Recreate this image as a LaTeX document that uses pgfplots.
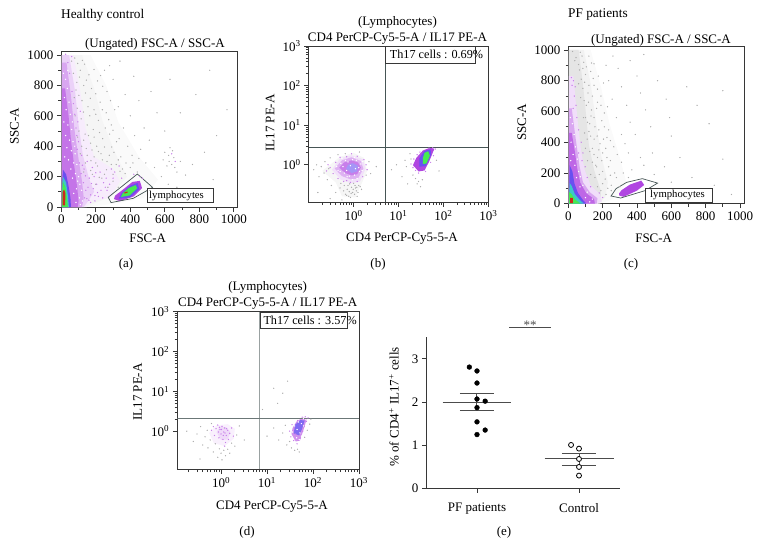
\documentclass[border=0pt]{standalone}
\usepackage{fontspec}
\setmainfont{Liberation Serif}
\usepackage{pgfplots}
\pgfplotsset{compat=1.18}
\definecolor{fpurple}{RGB}{176,70,225}
\definecolor{fblue}{RGB}{105,80,240}
\definecolor{fcyan}{RGB}{60,200,200}
\definecolor{fgreen}{RGB}{70,235,80}
\definecolor{fred}{RGB}{205,40,30}
\definecolor{axdark}{RGB}{55,55,55}
\definecolor{gategray}{RGB}{70,85,85}
\newcommand{\lab}{\fontsize{13}{15}\selectfont}
\pgfplotsset{
  flow/.style={
    scale only axis, anchor=south west, axis line style={axdark, line width=1pt},
    tick align=outside, xtick pos=bottom, ytick pos=left,
    tickwidth=4.5pt, subtickwidth=2.8pt,
    tick style={draw=axdark, line width=0.8pt},
    tick label style={font=\lab},
    /pgf/number format/assume math mode=true,
    /pgf/number format/1000 sep={},
    label style={font=\lab},
    every axis title shift=0pt,
    title style={font=\fontsize{13}{16}\selectfont, align=center},
  },
  linflow/.style={flow, xmin=0, ymin=0, xtick={0,200,400,600,800,1000}, ytick={0,200,400,600,800,1000},
    minor x tick num=1, minor y tick num=1},
  logflow/.style={flow, xmax=1000, ymax=1000,
    xtick={1,10,100,1000}, ytick={1,10,100,1000},
    xticklabels={10\textsuperscript{0},10\textsuperscript{1},10\textsuperscript{2},10\textsuperscript{3}},
    yticklabels={10\textsuperscript{0},10\textsuperscript{1},10\textsuperscript{2},10\textsuperscript{3}},
    minor xtick={0.2,0.3,0.4,0.5,0.6,0.7,0.8,0.9,2,3,4,5,6,7,8,9,20,30,40,50,60,70,80,90,200,300,400,500,600,700,800,900},
    minor ytick={}},
  blob/.style={draw=none, fill=#1},
  gdot/.style={only marks, mark=*, mark size=0.38pt, color=gray!65, mark options={draw=none, fill=gray!65}},
  pdot/.style={only marks, mark=*, mark size=0.4pt, color=fpurple!70, mark options={draw=none, fill=fpurple!70}},
  wdot/.style={only marks, mark=*, mark size=0.45pt, color=white, mark options={draw=none, fill=white, fill opacity=.7}},
}
\begin{document}
\begin{tikzpicture}
\path[use as bounding box] (0pt,0pt) rectangle (760pt,-558pt);

% (a) healthy control, FSC/SSC
\begin{axis}[linflow, at={(61.3pt,-207pt)}, width=176pt, height=155.3pt, xmax=1020, ymax=1022,
  title={(Ungated) FSC-A / SSC-A}, title style={at={(axis description cs:0.5,1)}, anchor=center, yshift=7.5pt, xshift=5.7pt},
  xlabel={FSC-A}, xlabel style={at={(axis description cs:0.5,0)}, anchor=center, yshift=-31pt, xshift=-1.6pt},
  ylabel={SSC-A}, ylabel style={at={(axis description cs:0,0.5)}, anchor=center, yshift=47pt, xshift=3pt}]
\addplot[blob=gray!4] coordinates {(3,1000) (170,1000) (260,800) (330,560) (450,330) (560,180) (480,60) (300,20) (150,0) (3,0)} -- cycle;
\addplot[blob=gray!8] coordinates {(3,1000) (120,1000) (190,780) (240,560) (310,360) (380,200) (290,70) (160,10) (3,0)} -- cycle;
\addplot[blob=fpurple!10] coordinates {(3,1000) (70,1000) (110,760) (140,520) (190,330) (300,250) (340,170) (280,60) (180,40) (140,0) (3,0)} -- cycle;
\addplot[blob=fpurple!25] coordinates {(3,1000) (45,1000) (80,760) (100,540) (125,340) (160,190) (190,100) (150,30) (130,0) (3,0)} -- cycle;
\addplot[blob=fpurple!48] coordinates {(3,950) (30,950) (55,740) (75,520) (98,330) (120,170) (130,60) (120,0) (3,0)} -- cycle;
\addplot[blob=fpurple!75] coordinates {(3,780) (22,780) (42,600) (58,420) (75,270) (92,130) (100,40) (95,0) (3,0)} -- cycle;
\addplot[wdot] coordinates {(12,880) (25,840) (35,780) (18,720) (45,690) (28,640) (52,610) (15,560) (38,540) (60,510) (25,470) (48,440) (68,430) (32,390) (58,370) (80,350) (20,330) (42,310) (72,290) (90,280) (55,250) (82,220) (100,200) (65,190) (108,150) (88,120) (118,110) (72,90) (105,60) (122,40) (85,30) (110,15) (95,170) (78,400) (64,560) (38,900)};
\addplot[blob=fblue] coordinates {(4,0) (56,0) (53,60) (42,140) (28,215) (10,245) (5,150)} -- cycle;
\addplot[blob=fcyan] coordinates {(4,0) (44,0) (39,70) (28,160) (10,200) (5,120)} -- cycle;
\addplot[blob=fgreen] coordinates {(4,0) (38,0) (33,60) (24,130) (8,170)} -- cycle;
\addplot[blob=fred] coordinates {(8,10) (22,10) (24,90) (16,115) (8,100)} -- cycle;
\addplot[pdot] coordinates {(135,60) (142,110) (128,160) (115,220) (132,250) (105,290) (118,340) (92,380) (100,430) (85,520) (96,560) (78,610) (70,680) (62,760) (48,880) (38,950) (155,130) (170,80) (185,120) (162,190) (190,200) (205,150) (230,110) (215,70) (245,160) (180,260) (150,300) (225,230) (260,190) (265,110) (280,150) (240,60) (195,40) (170,30) (290,250) (310,230) (350,190) (335,270) (420,215) (455,200) (470,190) (640,350) (660,300) (110,630) (60,990) (25,1005) (90,470) (148,55) (175,155) (210,95) (140,205) (122,275) (200,225) (255,130) (300,190) (160,45) (195,75)};
\addplot[gdot] coordinates {(60,960) (110,900) (135,940) (160,870) (90,820) (130,800) (175,780) (210,830) (250,900) (75,720) (120,700) (155,660) (190,640) (225,690) (265,760) (300,840) (80,600) (115,580) (150,540) (185,510) (215,570) (260,620) (290,540) (330,660) (370,740) (420,860) (95,460) (130,440) (170,420) (205,400) (240,450) (280,480) (320,430) (360,520) (400,600) (450,700) (520,760) (110,350) (150,340) (190,330) (230,350) (265,300) (305,360) (345,330) (385,400) (425,470) (480,520) (555,620) (630,840) (130,230) (170,240) (210,270) (250,215) (290,280) (330,310) (375,290) (410,340) (460,380) (510,440) (600,500) (690,620) (780,740) (860,900) (200,150) (235,190) (270,130) (300,170) (330,130) (370,220) (400,260) (440,230) (490,290) (540,260) (590,310) (612,270) (622,340) (630,390) (645,370) (652,325) (640,280) (658,260) (625,300) (600,360) (670,230) (690,300) (720,210) (760,280) (830,360) (900,470) (960,640) (580,200) (620,150) (670,130) (560,110) (500,120) (720,120) (800,80) (880,180)
 (78,980) (95,945) (122,965) (70,880) (105,855) (145,835) (190,905) (228,865) (280,930) (340,960) (85,770) (102,735) (140,750) (168,715) (200,745) (240,795) (285,700) (92,650) (128,625) (165,600) (200,610) (238,640) (275,575) (310,640) (102,500) (138,480) (158,470) (190,460) (222,490) (255,520) (300,505) (118,400) (145,385) (178,375) (215,365) (250,395) (292,395) (335,450) (140,290) (172,305) (200,290) (238,310) (278,340) (318,280) (355,250) (180,215) (220,195) (262,245) (300,215) (340,235) (415,290) (450,320)};
\addplot[blob=fpurple] coordinates {(305,52) (340,38) (420,70) (468,125) (455,172) (412,165) (350,108) (312,75)} -- cycle;
\addplot[blob=fblue] coordinates {(333,55) (400,64) (452,118) (442,158) (402,142) (350,92)} -- cycle;
\addplot[blob=fgreen] coordinates {(346,66) (396,76) (440,124) (430,144) (390,124) (356,90)} -- cycle;
\addplot[blob=fred] coordinates {(365,88) (385,95) (385,102) (365,96)} -- cycle;
\addplot[draw=gategray, line width=0.7pt] coordinates {(272,64) (288,29) (417,57) (529,129) (441,217)} -- cycle;
\end{axis}

% (b) healthy control, CD4/IL17
\begin{loglogaxis}[logflow, at={(308.7pt,-202pt)}, width=179.6pt, height=156pt, xmin=0.1, ymin=0.115,
  title={(Lymphocytes)\\CD4 PerCP-Cy5-5-A / IL17 PE-A}, title style={at={(axis description cs:0.5,1)}, anchor=center, yshift=16pt, xshift=-1pt},
  xlabel={CD4 PerCP-Cy5-5-A}, xlabel style={at={(axis description cs:0.5,0)}, anchor=center, yshift=-36.5pt, xshift=3.5pt},
  ylabel={IL17 PE-A}, ylabel style={at={(axis description cs:0,0.5)}, anchor=center, yshift=38.7pt, xshift=1pt}]
\addplot[blob=gray!7] coordinates {(0.2,0.7) (0.4,0.36) (0.55,0.16) (1.1,0.15) (1.5,0.33) (2,0.7) (1.7,1.5) (1,2) (0.5,1.6)} -- cycle;
\addplot[blob=fpurple!16] coordinates {(0.33,0.75) (0.52,0.42) (0.9,0.34) (1.4,0.38) (1.85,0.8) (1.6,1.4) (0.9,1.75) (0.5,1.45)} -- cycle;
\addplot[blob=fpurple!42] coordinates {(0.38,0.8) (0.55,0.52) (0.85,0.43) (1.25,0.45) (1.65,0.8) (1.45,1.25) (0.9,1.55) (0.55,1.3)} -- cycle;
\addplot[blob=fpurple!70] coordinates {(0.48,0.85) (0.65,0.62) (0.9,0.54) (1.2,0.58) (1.45,0.85) (1.25,1.15) (0.9,1.3) (0.62,1.15)} -- cycle;
\addplot[blob=fblue!60] coordinates {(0.68,0.8) (0.9,0.62) (1.2,0.68) (1.25,0.95) (0.95,1.1) (0.75,1)} -- cycle;
\addplot[wdot] coordinates {(0.45,0.72) (0.52,1.1) (0.62,0.62) (0.66,1.3) (0.8,0.52) (1.05,0.55) (1.35,0.68) (1.45,1.05) (1.15,1.3) (0.58,0.9) (0.75,1.18) (1.3,0.85) (0.95,1.35) (0.7,0.72) (1.1,0.8) (0.85,0.95) (0.5,0.68) (0.42,0.9) (1.55,0.72) (0.72,0.5) (1.2,0.45) (0.95,0.42) (1.6,1.2) (0.55,1.45) (1.05,1.55)};
\addplot[pdot] coordinates {(0.3,0.85) (0.35,0.6) (0.4,1.15) (0.45,0.45) (0.5,1.55) (0.7,1.6) (0.9,1.9) (1.2,1.65) (1.7,1.35) (1.9,1) (2,0.75) (1.6,0.5) (1.2,0.38) (0.85,0.36) (0.7,0.4) (0.25,0.7) (0.27,1) (0.6,0.38)};
\addplot[gdot] coordinates {(0.13,0.75) (0.15,1) (0.17,0.5) (0.19,0.9) (0.22,0.62) (0.23,1.2) (0.26,0.42) (0.28,0.8) (0.3,1.5) (0.32,0.3) (0.4,0.2) (0.45,1.8) (0.5,0.26) (0.55,0.13) (0.6,0.22) (0.65,1.9) (0.7,0.17) (0.75,0.3) (0.8,0.21) (0.85,0.15) (0.9,0.27) (0.95,0.2) (1,0.34) (1.05,0.18) (1.1,0.26) (1.15,0.22) (1.2,0.16) (1.3,0.3) (1.35,2.1) (1.5,0.24) (1.9,0.55) (2.2,1.2) (2.4,0.6) (3.2,0.9) (7,0.75) (9,1) (12,0.5) (15,0.9) (16,0.33) (19,1.4) (21,0.55) (24,0.45) (26,0.33) (28,0.38) (31,0.28) (34,0.42) (18,1.9) (14,1.3) (70,1.3) (80,0.7) (0.16,0.2) (0.3,0.14) (0.62,0.3) (0.72,0.24) (0.82,0.33) (0.88,0.19) (0.98,0.24) (1.08,0.3) (1.18,0.27) (1.25,0.2) (0.66,0.18) (0.78,0.16) (0.52,0.34) (1.4,0.28)};
\addplot[pdot] coordinates {(19,1.05) (21,0.85) (22,1.4) (24,0.72) (26,1.8) (28,0.62) (30,2.1) (40,0.68) (52,1.15) (60,1.7) (66,2.5) (48,2.65) (58,2.7)};
\addplot[blob=fpurple] coordinates {(21,0.98) (28,0.68) (38,0.72) (48,1.2) (63,2.55) (50,2.7) (35,2.3) (25,1.5)} -- cycle;
\addplot[blob=fblue] coordinates {(29,0.9) (40,0.92) (53,1.75) (52,2.45) (38,2.25) (29,1.45)} -- cycle;
\addplot[blob=fgreen] coordinates {(35,1.05) (42,1.08) (50,1.7) (46,2.2) (38,2) (35,1.5)} -- cycle;
\addplot[draw=gategray, line width=0.9pt, forget plot] coordinates {(5.06,0.115) (5.06,1000)};
\addplot[draw=gategray, line width=0.9pt, forget plot] coordinates {(0.1,2.75) (1000,2.75)};
\end{loglogaxis}

% (c) PF patients, FSC/SSC
\begin{axis}[linflow, at={(568.3pt,-203.7pt)}, width=176pt, height=157pt, xmax=1025, ymax=1021,
  title={(Ungated) FSC-A / SSC-A}, title style={at={(axis description cs:0.5,1)}, anchor=center, yshift=6.5pt, xshift=4.7pt},
  xlabel={FSC-A}, xlabel style={at={(axis description cs:0.5,0)}, anchor=center, yshift=-34.3pt, xshift=-2.6pt},
  ylabel={SSC-A}, ylabel style={at={(axis description cs:0,0.5)}, anchor=center, yshift=46.3pt, xshift=3pt}]
\addplot[blob=gray!4] coordinates {(3,1000) (130,1000) (190,760) (240,520) (300,300) (340,130) (260,30) (180,0) (3,0)} -- cycle;
\addplot[blob=gray!10] coordinates {(3,1000) (90,1000) (130,780) (160,540) (190,320) (230,140) (215,40) (170,0) (3,0)} -- cycle;
\addplot[blob=gray!20] coordinates {(3,1000) (60,1000) (85,780) (105,560) (120,380) (150,220) (190,80) (190,20) (170,0) (3,0)} -- cycle;
\addplot[blob=fpurple!18] coordinates {(3,830) (30,830) (42,680) (58,500) (75,340) (95,220) (130,120) (185,60) (195,15) (170,0) (3,0)} -- cycle;
\addplot[blob=fpurple!48] coordinates {(4,620) (20,620) (36,480) (52,350) (66,240) (85,140) (125,75) (170,35) (165,0) (4,0)} -- cycle;
\addplot[blob=fpurple!82] coordinates {(4,460) (20,460) (38,340) (52,230) (70,135) (105,68) (150,30) (155,0) (4,0)} -- cycle;
\addplot[wdot] coordinates {(12,560) (24,520) (34,450) (16,400) (42,370) (28,320) (52,290) (14,280) (60,210) (38,250) (70,175) (48,170) (85,120) (68,110) (110,75) (100,40) (140,30) (125,12)};
\addplot[blob=fblue] coordinates {(4,0) (105,0) (85,25) (56,70) (36,130) (24,210) (8,250)} -- cycle;
\addplot[blob=fcyan] coordinates {(4,0) (90,0) (64,28) (38,62) (20,115) (8,135)} -- cycle;
\addplot[blob=fgreen] coordinates {(4,0) (72,0) (42,25) (17,65) (5,75)} -- cycle;
\addplot[blob=fred] coordinates {(10,3) (27,3) (27,38) (11,38)} -- cycle;
\addplot[pdot] coordinates {(30,800) (22,770) (40,760) (35,700) (45,640) (50,560) (60,480) (75,400) (85,330) (98,240) (110,170) (130,110) (180,70) (200,40) (18,820) (28,620) (60,330) (80,280)};
\addplot[gdot] coordinates {(25,990) (45,950) (70,985) (90,920) (120,960) (150,910) (65,870) (100,840) (130,860) (175,830) (220,900) (260,960) (85,750) (115,720) (150,770) (190,700) (235,800) (290,880) (360,930) (440,970) (105,640) (135,610) (170,660) (210,590) (255,680) (310,760) (400,830) (125,520) (155,500) (195,540) (235,480) (280,560) (340,640) (420,720) (520,800) (150,420) (185,390) (225,430) (265,370) (310,450) (360,530) (450,610) (570,680) (690,760) (900,735) (170,300) (200,330) (245,280) (285,320) (330,390) (390,450) (480,500) (590,560) (750,640) (200,210) (235,240) (270,200) (310,270) (350,330) (420,300) (490,330) (600,440) (820,520) (250,120) (280,170) (320,200) (370,220) (440,250) (500,190) (560,240) (650,300) (720,170) (900,290) (220,60) (250,85) (300,110) (350,170) (530,90) (600,140) (700,90) (850,120) (950,60) (85,880) (60,780) (100,560) (120,470) (140,360) (160,250)
 (38,930) (60,905) (80,960) (105,890) (135,915) (75,810) (95,790) (120,770) (145,815) (170,745) (205,785) (72,690) (92,670) (118,660) (140,700) (165,620) (190,640) (228,630) (88,560) (112,530) (132,570) (150,560) (178,480) (210,500) (95,460) (110,420) (130,440) (168,440) (205,420) (245,410) (100,360) (125,340) (150,320) (178,350) (218,360) (112,280) (140,270) (165,240) (195,280) (225,300) (130,190) (155,170) (180,190) (215,160) (245,185) (170,110) (200,130) (230,100) (190,85)};
\addplot[blob=fpurple] coordinates {(298,52) (322,45) (400,85) (442,122) (425,150) (360,125) (310,88) (295,66)} -- cycle;
\addplot[draw=gategray, line width=0.7pt] coordinates {(249,50) (305,37) (447,85) (520,134) (431,163) (340,139) (278,98)} -- cycle;
\end{axis}

% (d) PF patients, CD4/IL17
\begin{loglogaxis}[logflow, at={(177.3pt,-469.3pt)}, width=181.7pt, height=157.6pt, xmin=0.112, ymin=0.11,
  title={(Lymphocytes)\\CD4 PerCP-Cy5-5-A / IL17 PE-A}, title style={at={(axis description cs:0.5,1)}, anchor=center, yshift=16pt, xshift=-0.5pt},
  xlabel={CD4 PerCP-Cy5-5-A}, xlabel style={at={(axis description cs:0.5,0)}, anchor=center, yshift=-37.5pt, xshift=3.8pt},
  ylabel={IL17 PE-A}, ylabel style={at={(axis description cs:0,0.5)}, anchor=center, yshift=39.6pt, xshift=-1.5pt}]
\addplot[blob=fpurple!8] coordinates {(0.55,0.9) (0.7,0.5) (1.2,0.42) (1.9,0.65) (2,1.15) (1.4,1.5) (0.8,1.4)} -- cycle;
\addplot[blob=fpurple!20] coordinates {(0.8,0.95) (1,0.6) (1.4,0.62) (1.6,0.95) (1.3,1.25) (0.95,1.3)} -- cycle;
\addplot[pdot] coordinates {(0.62,1.05) (0.68,1.3) (0.72,0.78) (0.78,1.15) (0.85,1.42) (0.9,0.68) (0.95,1.1) (1,0.85) (1.05,1.32) (1.1,0.62) (1.15,0.95) (1.2,1.2) (1.25,0.52) (1.3,0.78) (1.4,1.05) (1.45,0.62) (1.55,0.88) (1.2,0.42) (1.7,1.2) (1.85,0.75) (0.88,0.95) (1.02,1.1) (1.12,0.78) (1.22,0.9) (1.32,1.15) (0.92,1.25)};
\addplot[gdot] coordinates {(0.18,1) (0.25,0.55) (0.3,0.85) (0.36,1.3) (0.4,0.45) (0.45,0.72) (0.5,1.05) (0.52,0.38) (0.58,0.6) (0.62,1.55) (0.68,0.3) (0.75,0.48) (0.85,0.22) (0.92,0.36) (1,0.28) (1.05,0.19) (1.15,0.33) (1.25,0.24) (1.4,0.35) (1.55,0.28) (1.7,0.5) (2,0.42) (2.2,0.8) (2.5,1.35) (3.2,0.6) (0.35,0.2) (10,0.75) (14,1.2) (18,0.6) (22,0.9) (25,1.4) (27,0.45) (31,0.55) (34,0.38) (40,0.33) (46,0.35) (50,0.3) (66,0.7) (75,1.05) (85,1.5) (90,2) (17,5) (22,9) (14,12) (28,18) (8,3.5)};
\addplot[pdot] coordinates {(31,1) (33,0.72) (35,1.45) (38,0.58) (41,0.85) (45,0.48) (48,0.6) (52,0.66) (60,1) (64,1.3) (72,1.75) (78,2.15) (68,2.3) (58,2.25) (46,1.85)};
\addplot[blob=fpurple!60] coordinates {(34,0.85) (42,0.55) (52,0.58) (60,0.95) (74,2.1) (60,2.2) (44,1.75) (36,1.2)} -- cycle;
\addplot[blob=fblue!85] coordinates {(38,0.88) (50,0.78) (57,1.1) (66,1.85) (53,1.9) (41,1.45)} -- cycle;
\addplot[wdot] coordinates {(36,0.95) (44,0.68) (50,0.62) (56,0.75) (62,1.35) (70,1.95) (62,2.05) (48,1.7) (40,1.35) (45,1.1) (52,0.9) (56,1.55)};
\addplot[draw=gategray!55, line width=1.5pt, forget plot] coordinates {(6.9,0.11) (6.9,1000)};
\addplot[draw=gategray!80, line width=1pt, forget plot] coordinates {(0.112,2.08) (1000,2.08)};
\end{loglogaxis}

% (e) percentage of Th17 cells
\begin{axis}[scale only axis, anchor=south west, at={(426.3pt,-488.3pt)}, width=193.7pt, height=151pt,
  xmin=-0.497, xmax=1.402, ymin=0, ymax=3.5, clip=false,
  axis x line*=bottom, axis y line*=left, axis line style={axdark, line width=0.8pt, -},
  xtick={0,1}, xticklabels={PF patients,Control}, ytick={0,1,2,3},
  tick align=outside, tickwidth=4.5pt, tick style={draw=axdark, line width=0.8pt},
  tick label style={font=\lab},
  /pgf/number format/assume math mode=true,
  xticklabel style={yshift=-7pt},
  ylabel={\% of CD4\textsuperscript{+} IL17\textsuperscript{+} cells},
  ylabel style={font=\lab, at={(axis description cs:0,0.5)}, anchor=center, yshift=32.3pt, xshift=6pt}]
\addplot[only marks, mark=*, mark size=2.4pt, color=black] coordinates {(-0.075,2.81) (0,2.72) (0,2.44) (0,2.07) (0.08,2.02) (0,1.87) (0,1.54) (0.08,1.35) (0,1.245)};
\addplot[only marks, mark=*, mark size=2.5pt, color=black, fill=white, mark options={line width=0.8pt, fill=white}] coordinates {(0.922,1.005) (1,0.92) (1,0.68) (1,0.495) (1,0.295)};
\addplot[black!70, line width=1pt] coordinates {(-0.336,2) (0.336,2)};
\addplot[black!70, line width=1pt] coordinates {(-0.167,2.2) (0.167,2.2)};
\addplot[black!70, line width=1pt] coordinates {(-0.167,1.81) (0.167,1.81)};
\addplot[black!70, line width=1pt] coordinates {(0,1.81) (0,2.2)};
\addplot[black!70, line width=1pt] coordinates {(0.664,0.68) (1.34,0.68)};
\addplot[black!70, line width=1pt] coordinates {(0.833,0.81) (1.167,0.81)};
\addplot[black!70, line width=1pt] coordinates {(0.833,0.54) (1.167,0.54)};
\addplot[black!70, line width=1pt] coordinates {(1,0.54) (1,0.81)};
\addplot[black!70, line width=1pt] coordinates {(0.314,3.72) (0.722,3.72)};
\node[font=\lab, text=black!70] at (axis cs:0.52,3.79) {**};
\end{axis}

% headings, gate labels and panel letters
\node[anchor=west, inner sep=0pt, font=\fontsize{13.3}{15}\selectfont] at (61pt,-15pt) {Healthy control};
\node[anchor=west, inner sep=0pt, font=\fontsize{13.3}{15}\selectfont] at (568pt,-15pt) {PF patients};
\draw[axdark, line width=0.7pt, fill=white] (147pt,-188.7pt) rectangle (213.3pt,-202.3pt);
\node[anchor=west, inner sep=0pt, font=\fontsize{10.7}{12}\selectfont] at (149pt,-195.5pt) {lymphocytes};
\draw[axdark, line width=0.7pt, fill=white] (645.3pt,-188.7pt) rectangle (712.7pt,-202pt);
\node[anchor=west, inner sep=0pt, font=\fontsize{10.7}{12}\selectfont] at (650pt,-195.3pt) {lymphocytes};
\draw[axdark, line width=0.7pt] (385.3pt,-46pt) rectangle (475.7pt,-63.3pt);
\node[anchor=west, inner sep=0pt, font=\fontsize{12.2}{14}\selectfont] at (389.7pt,-54.5pt) {Th17 cells : 0.69\%};
\draw[axdark, line width=0.7pt] (260.3pt,-312.3pt) rectangle (347.7pt,-328.3pt);
\node[anchor=west, inner sep=0pt, font=\fontsize{12.2}{14}\selectfont] at (263.3pt,-320pt) {Th17 cells : 3.57\%};
\node[font=\lab] at (126pt,-264pt) {(a)};
\node[font=\lab] at (378pt,-264pt) {(b)};
\node[font=\lab] at (631pt,-264pt) {(c)};
\node[font=\lab] at (247pt,-532pt) {(d)};
\node[font=\lab] at (504pt,-532pt) {(e)};
\end{tikzpicture}
\end{document}
